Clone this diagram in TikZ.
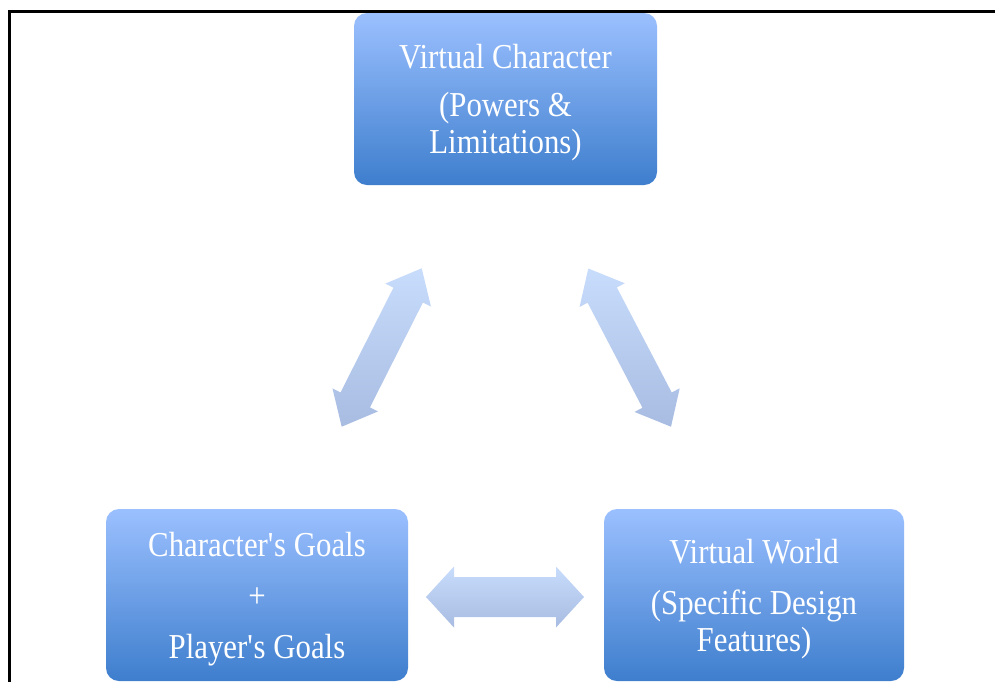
\documentclass[tikz,border=0pt]{standalone}
\usepackage{fontspec}
\setmainfont[FakeStretch=0.88]{Liberation Serif}
\usetikzlibrary{calc}
\definecolor{boxtop}{RGB}{155,192,255}
\definecolor{boxbot}{RGB}{62,126,205}
\definecolor{arrtop}{RGB}{200,220,252}
\definecolor{arrbot}{RGB}{168,188,226}
\tikzset{
  boxnode/.style={rounded corners=13pt, top color=boxtop, bottom color=boxbot,
    minimum height=172pt, inner sep=0pt},
  boxtext/.style={text=white, align=center, inner sep=0pt,
    font=\fontsize{35}{37}\selectfont},
  arrowshade/.style={top color=arrtop, bottom color=arrbot, draw=none},
  framestyle/.style={line width=3.5pt, draw=black},
}
\newcommand\blockarrow[6]{%
  \coordinate (#6a) at ($(#1)!#3!(#2)$);
  \coordinate (#6b) at ($(#2)!#3!(#1)$);
  \shade[arrowshade] (#1) -- ($(#6a)!#4!90:(#2)$) -- ($(#6a)!#5!90:(#2)$)
    -- ($(#6b)!#5!-90:(#1)$) -- ($(#6b)!#4!-90:(#1)$) -- (#2)
    -- ($(#6b)!#4!90:(#1)$) -- ($(#6b)!#5!90:(#1)$)
    -- ($(#6a)!#5!-90:(#2)$) -- ($(#6a)!#4!-90:(#2)$) -- cycle;
}
\begin{document}
\begin{tikzpicture}[x=1pt,y=-1pt]
\useasboundingbox (0,0) rectangle (995,681);
\clip (0,0) rectangle (995,681);
\fill[white] (0,0) rectangle (995,681);
\draw[framestyle] (9.5,11.5) rectangle (1200,900);

\node[boxnode, minimum width=303pt] (vc) at (505.5,99) {};
\node[boxnode, minimum width=302pt] (cg) at (257,595) {};
\node[boxnode, minimum width=300pt] (vw) at (754,595) {};

\node[boxtext] (vct) at ([yshift=-3.5pt]vc.center)
  {Virtual Character\\[11pt](Powers \&\\Limitations)};
\node[boxtext] (cgt) at ([yshift=-4.5pt]cg.center)
  {Character\textquotesingle s Goals\\[14pt]+\\[14pt]Player\textquotesingle s Goals};
\node[boxtext] (vwt) at ([yshift=-4.5pt]vw.center)
  {Virtual World\\[14pt](Specific Design\\Features)};

% arrow tips
\coordinate (l1) at (341.7,426.7);
\coordinate (l2) at (421.7,268.3);
\coordinate (r1) at (588.3,268.5);
\coordinate (r2) at (671,426.7);
\coordinate (h1) at (426,597);
\coordinate (h2) at (584,597);

\blockarrow{l1}{l2}{30pt}{25.5pt}{16.5pt}{la}
\blockarrow{r1}{r2}{30pt}{25.5pt}{16.5pt}{ra}
\blockarrow{h1}{h2}{28pt}{30.5pt}{20pt}{ha}
\end{tikzpicture}
\end{document}
